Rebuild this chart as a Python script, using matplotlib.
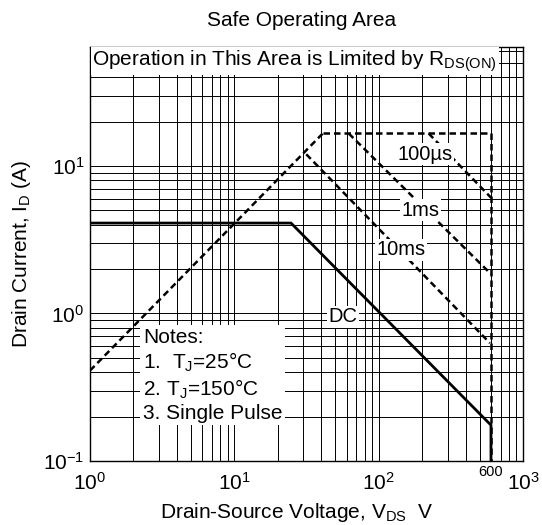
import matplotlib
matplotlib.use('Agg')
import matplotlib.pyplot as plt
import matplotlib.transforms as mtransforms
import numpy as np

plt.rcParams['font.family'] = ['Liberation Sans', 'DejaVu Sans']
plt.rcParams['mathtext.default'] = 'regular'

# safe operating area boundaries (V, A)
rds_v = [1, 41]
rds_i = [0.41, 16.6]
pulse_max_v = [41, 600, 600]
pulse_max_i = [16.6, 16.6, 0.1]
us100_v = [222, 600]
us100_i = [16.6, 6.1]
ms1_v = [62, 600]
ms1_i = [16.6, 1.85]
ms10_v = [31.5, 590]
ms10_i = [12.0, 0.63]
dc_v = [1, 24.7, 600, 600]
dc_i = [4.1, 4.1, 0.175, 0.1]

curve_labels = ['100µs', '1ms', '10ms', 'DC']
label_v = [209, 196, 142, 56.5]
label_i = [12.0, 5.0, 2.7, 0.95]

notes = ['Notes:', '1.  T$_J$=25°C', '2. T$_J$=150°C', '3. Single Pulse']

fig = plt.figure(figsize=(5.42, 5.25), dpi=100)
ax = fig.add_axes([90 / 542, 64 / 525, 433 / 542, 414 / 525])
ax.set_xscale('log')
ax.set_yscale('log')
ax.set_xlim(1, 1000)
ax.set_ylim(0.1, 64)

ax.grid(True, which='both', color='k', linewidth=0.7)
ax.tick_params(which='both', length=0, labelsize=15)
ax.tick_params(axis='x', pad=8)
ax.tick_params(axis='y', pad=4)
for s in ax.spines.values():
    s.set_linewidth(1.0)

dash = (0, (2.6, 1.6))
lw_d = 1.8
ax.plot(rds_v, rds_i, color='k', lw=lw_d, linestyle=dash)
ax.plot(pulse_max_v, pulse_max_i, color='k', lw=lw_d, linestyle=dash)
ax.plot(us100_v, us100_i, color='k', lw=lw_d, linestyle=dash)
ax.plot(ms1_v, ms1_i, color='k', lw=lw_d, linestyle=dash)
ax.plot(ms10_v, ms10_i, color='k', lw=lw_d, linestyle=dash)
ax.plot(dc_v, dc_i, color='k', lw=2.0, solid_joinstyle='miter')

box = dict(facecolor='white', edgecolor='none', pad=1)
for t, v, i in zip(curve_labels, label_v, label_i):
    ax.text(v, i, t, fontsize=14.5, ha='center', va='center', bbox=box, zorder=5)

ax.text(0.473, 0.966, 'Operation in This Area is Limited by R$_{DS(ON)}$',
        transform=ax.transAxes, fontsize=15, ha='center', va='center',
        bbox=box, zorder=5)

ax.text(2.33, 0.80, '\n'.join(notes), fontsize=15, ha='left', va='top',
        linespacing=1.2, bbox=dict(facecolor='white', edgecolor='none', pad=2),
        zorder=5)

# extra 600 V tick label
trans = mtransforms.blended_transform_factory(ax.transData, ax.transAxes)
ax.text(600, -0.01, '600', transform=trans, fontsize=10.5, ha='center', va='top')

fig.text(302 / 542, 1 - 21 / 525, 'Safe Operating Area', fontsize=15,
         ha='center', va='center')
fig.text(297 / 542, 1 - 512 / 525, 'Drain-Source Voltage, V$_{DS}$  V',
         fontsize=15, ha='center', va='center')
fig.text(22 / 542, 1 - 254 / 525, 'Drain Current, I$_D$ (A)', fontsize=15,
         ha='center', va='center', rotation=90)

plt.savefig('out.png', dpi=100)
